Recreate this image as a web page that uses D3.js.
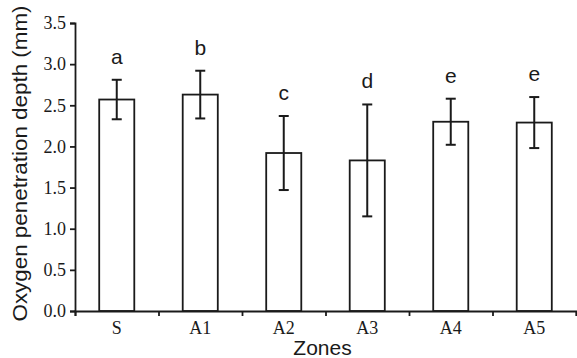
<!DOCTYPE html>
<html>
<head>
<meta charset="utf-8">
<script src="https://cdn.jsdelivr.net/npm/d3@7"></script>
<style>
  body { margin: 0; background: #fff; }
</style>
</head>
<body>
<div id="chart"></div>
<script>
const zones = ["S", "A1", "A2", "A3", "A4", "A5"];
const depth = [2.57, 2.63, 1.92, 1.83, 2.30, 2.29];
const errors = [0.24, 0.29, 0.45, 0.68, 0.28, 0.31];
const letters = ["a", "b", "c", "d", "e", "e"];
const yTicks = [0, 0.5, 1.0, 1.5, 2.0, 2.5, 3.0, 3.5];

const width = 577, height = 358;
const margin = { top: 23, right: 1, bottom: 47, left: 75 };
const ink = "#1a1a1a";

const svg = d3.select("#chart").append("svg")
  .attr("width", width)
  .attr("height", height);

const x = d3.scaleBand()
  .domain(zones)
  .range([margin.left, width - margin.right])
  .paddingInner(0.58)
  .paddingOuter(0.29);

const xEdge = d3.scaleLinear()
  .domain([0, zones.length])
  .range([margin.left, width - margin.right]);

const y = d3.scaleLinear()
  .domain([0, 3.5])
  .range([height - margin.bottom, margin.top]);

// bars
svg.append("g")
  .selectAll("rect")
  .data(zones)
  .join("rect")
  .attr("x", d => x(d))
  .attr("y", (d, i) => y(depth[i]))
  .attr("width", x.bandwidth())
  .attr("height", (d, i) => y(0) - y(depth[i]))
  .attr("fill", "#fff")
  .attr("stroke", ink)
  .attr("stroke-width", 1.8);

// error bars
const cap = 5;
const eb = svg.append("g")
  .attr("stroke", ink)
  .attr("stroke-width", 2)
  .selectAll("g")
  .data(zones)
  .join("g")
  .attr("transform", d => `translate(${x(d) + x.bandwidth() / 2},0)`);
eb.append("line")
  .attr("y1", (d, i) => y(depth[i] + errors[i]))
  .attr("y2", (d, i) => y(depth[i] - errors[i]));
eb.append("line")
  .attr("x1", -cap).attr("x2", cap)
  .attr("y1", (d, i) => y(depth[i] + errors[i]))
  .attr("y2", (d, i) => y(depth[i] + errors[i]));
eb.append("line")
  .attr("x1", -cap).attr("x2", cap)
  .attr("y1", (d, i) => y(depth[i] - errors[i]))
  .attr("y2", (d, i) => y(depth[i] - errors[i]));

// significance letters
svg.append("g")
  .selectAll("text")
  .data(zones)
  .join("text")
  .attr("x", d => x(d) + x.bandwidth() / 2)
  .attr("y", (d, i) => y(depth[i] + errors[i]) - 16)
  .attr("text-anchor", "middle")
  .attr("font-family", "Liberation Sans, Arial, sans-serif")
  .attr("font-size", 21)
  .attr("fill", ink)
  .text((d, i) => letters[i]);

// y axis
const yAxis = svg.append("g")
  .attr("transform", `translate(${margin.left},0)`)
  .call(d3.axisLeft(y).tickValues(yTicks).tickFormat(d3.format(".1f")).tickSize(5).tickPadding(4));
yAxis.selectAll("text")
  .attr("font-family", "Liberation Serif, Times New Roman, serif")
  .attr("font-size", 18)
  .attr("fill", ink);

// x axis: edge ticks + labels
const xAxis = svg.append("g")
  .attr("transform", `translate(0,${y(0)})`)
  .call(d3.axisBottom(xEdge).tickValues(d3.range(zones.length + 1)).tickFormat("").tickSize(5));
const xLab = svg.append("g")
  .attr("transform", `translate(0,${y(0)})`)
  .call(d3.axisBottom(x).tickSize(0).tickPadding(10));
xLab.select(".domain").remove();
xLab.selectAll("text")
  .attr("font-family", "Liberation Serif, Times New Roman, serif")
  .attr("font-size", 18)
  .attr("fill", ink);

svg.selectAll(".domain, .tick line")
  .attr("stroke", ink)
  .attr("stroke-width", 1.8);

// axis titles
svg.append("text")
  .attr("x", xEdge(zones.length / 2) - 3)
  .attr("y", 355)
  .attr("text-anchor", "middle")
  .attr("font-family", "Liberation Sans, Arial, sans-serif")
  .attr("font-size", 21)
  .attr("fill", ink)
  .text("Zones");

svg.append("text")
  .attr("transform", `translate(27,${163.5}) rotate(-90)`)
  .attr("text-anchor", "middle")
  .attr("font-family", "Liberation Sans, Arial, sans-serif")
  .attr("font-size", 21)
  .attr("textLength", 316)
  .attr("lengthAdjust", "spacingAndGlyphs")
  .attr("fill", ink)
  .text("Oxygen penetration depth (mm)");
</script>
</body>
</html>
